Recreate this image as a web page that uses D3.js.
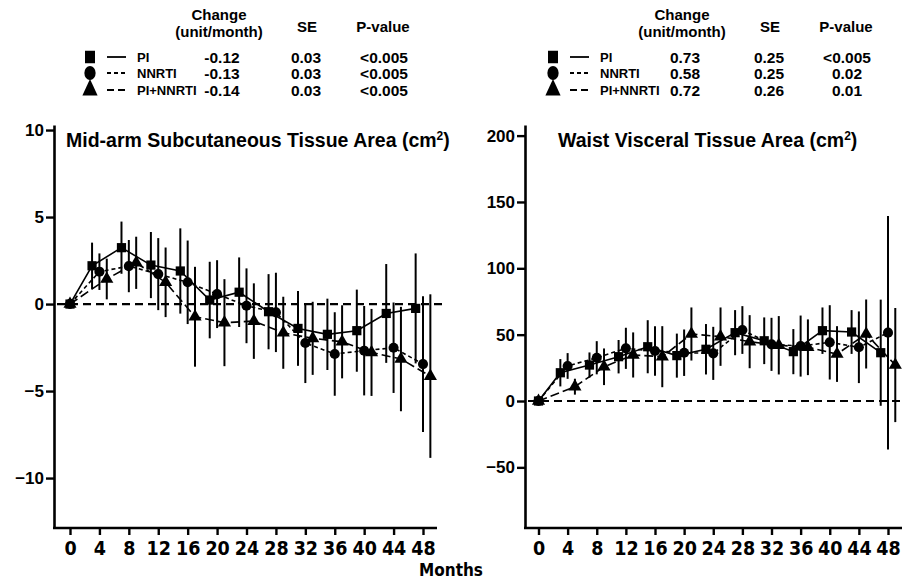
<!DOCTYPE html>
<html>
<head>
<meta charset="utf-8">
<script src="https://cdn.jsdelivr.net/npm/d3@7"></script>
<style>
  body { margin: 0; background: #fff; }
  svg { display: block; }
</style>
</head>
<body>
<div id="chart"></div>
<script>
// visit months, each group is shifted by one month so the bars do not overlap
const months = [0, 4, 8, 12, 16, 20, 24, 28, 32, 36, 40, 44, 48]
const month_ticks = [0, 4, 8, 12, 16, 20, 24, 28, 32, 36, 40, 44, 48]
const groups = ["PI", "NNRTI", "PI+NNRTI"]
const group_shift = [-1, 0, 1]

// Mid-arm subcutaneous tissue area (cm2)
const arm_pi = [0, 2.2, 3.24, 2.24, 1.9, 0.23, 0.68, -0.44, -1.4, -1.74, -1.53, -0.54, -0.25]
const arm_pi_err = [0, 1.33, 1.5, 1.9, 2.45, 2.2, 2.0, 2.16, 2.15, 2.05, 2.36, 2.84, 3.16]
const arm_nnrti = [0, 1.86, 2.18, 1.72, 1.25, 0.57, -0.1, -0.48, -2.24, -2.87, -2.68, -2.51, -3.45]
const arm_nnrti_err = [0, 1.05, 1.5, 2.07, 2.4, 1.95, 2.15, 2.28, 2.3, 2.4, 2.57, 2.6, 3.9]
const arm_both = [0, 1.44, 2.37, 1.25, -0.73, -1.07, -0.98, -1.65, -1.97, -2.17, -2.78, -3.16, -4.14]
const arm_both_err = [0, 1.17, 1.5, 2.0, 2.87, 2.5, 2.17, 2.07, 2.1, 2.1, 2.5, 3.0, 4.7]
const arm_ticks = [-10, -5, 0, 5, 10]
const arm_stats = [["-0.12", "0.03", "<0.005"], ["-0.13", "0.03", "<0.005"], ["-0.14", "0.03", "<0.005"]]

// Waist visceral tissue area (cm2)
const waist_pi = [0, 21.3, 27.1, 33.4, 40.9, 34.2, 39.0, 51.5, 45.4, 37.2, 53.0, 52.0, 36.4]
const waist_pi_err = [0, 10.3, 9.5, 12.6, 20, 16.6, 19, 17, 17.6, 17, 17.5, 16.5, 40]
const waist_nnrti = [0, 26.4, 32.6, 39.7, 37.7, 36.4, 35.9, 53.5, 42.7, 41.4, 44.2, 40.5, 51.5]
const waist_nnrti_err = [0, 9.7, 12.5, 15.5, 18.6, 17.5, 20, 18, 20, 23, 28, 27, 88]
const waist_both = [0, 10.8, 25.8, 34.7, 33.4, 50.5, 48.5, 44.7, 42, 40.5, 35.4, 50.5, 27.1]
const waist_both_err = [0, 6, 13.8, 17, 23, 20, 22, 20, 22, 21, 21, 26, 43]
const waist_ticks = [-50, 0, 50, 100, 150, 200]
const waist_stats = [["0.73", "0.25", "<0.005"], ["0.58", "0.25", "0.02"], ["0.72", "0.26", "0.01"]]

const font_main = "'Liberation Sans', Arial, Helvetica, sans-serif"
const font_narrow = "'Liberation Sans Narrow', 'DejaVu Sans Condensed', 'Arial Narrow', sans-serif"
const symbols = [d3.symbolSquare, d3.symbolCircle, d3.symbolTriangle]
const symbol_sizes = [85, 80, 75]
const dashes = [null, "4,3", "9,4"]

const svg = d3.select("#chart").append("svg")
  .attr("width", 902)
  .attr("height", 580)

function draw_legend(dx, stats) {
  const g = svg.append("g").attr("transform", `translate(${dx},0)`)
    .style("font-family", font_main)
    .style("font-weight", "bold")
    .style("fill", "#000")

  g.append("text").attr("x", 219).attr("y", 20).attr("text-anchor", "middle")
    .style("font-size", "15px").text("Change")
  g.append("text").attr("x", 219).attr("y", 37).attr("text-anchor", "middle")
    .style("font-size", "15px").text("(unit/month)")
  g.append("text").attr("x", 307).attr("y", 32).attr("text-anchor", "middle")
    .style("font-size", "15px").text("SE")
  g.append("text").attr("x", 383).attr("y", 32).attr("text-anchor", "middle")
    .style("font-size", "15px").text("P-value")

  const row_y = [57, 73, 90]
  groups.forEach((name, i) => {
    const y = row_y[i]
    g.append("path")
      .attr("d", d3.symbol(symbols[i], 100)())
      .attr("transform", `translate(90,${y}) scale(1,1.25)`)
      .attr("fill", "#000")
    g.append("line")
      .attr("x1", 107).attr("x2", 126).attr("y1", y).attr("y2", y)
      .attr("stroke", "#000").attr("stroke-width", 1.8)
      .attr("stroke-dasharray", i == 0 ? null : (i == 1 ? "4,3" : "7,4"))
    g.append("text").attr("x", 137).attr("y", y + 4.5)
      .style("font-size", "13px").text(name)
    g.append("text").attr("x", 222).attr("y", y + 5.5).attr("text-anchor", "middle")
      .style("font-size", "15.5px").text(stats[i][0])
    g.append("text").attr("x", 306).attr("y", y + 5.5).attr("text-anchor", "middle")
      .style("font-size", "15.5px").text(stats[i][1])
    g.append("text").attr("x", 384).attr("y", y + 5.5).attr("text-anchor", "middle")
      .style("font-size", "15.5px").text(stats[i][2])
  })
}

function draw_panel(opt) {
  const g = svg.append("g")
  const x = d3.scaleLinear().domain([0, 48]).range(opt.x_range)
  const y = d3.scaleLinear().domain(opt.y_domain).range([528, 125])

  // clip so the last series does not run past the picture edge
  const clip_id = "clip_" + opt.name
  svg.append("clipPath").attr("id", clip_id)
    .append("rect").attr("x", opt.axis_x).attr("y", 0)
    .attr("width", opt.axis_end - opt.axis_x).attr("height", 580)

  // y axis
  const y_axis = d3.axisLeft(y).tickValues(opt.y_ticks).tickSize(8).tickSizeOuter(0).tickFormat(d3.format("d"))
  const ya = g.append("g").attr("transform", `translate(${opt.axis_x},0)`).call(y_axis)
  ya.select(".domain").attr("stroke-width", 2.6)
  ya.selectAll(".tick line").attr("stroke-width", 2.4)
  ya.selectAll(".tick text")
    .style("font-family", font_main).style("font-weight", "bold").style("font-size", "17px")
    .attr("x", -10)

  // x axis
  const xa = g.append("g").attr("transform", "translate(0,528)")
  xa.append("line").attr("x1", opt.axis_x - 1).attr("x2", opt.axis_end)
    .attr("stroke", "#000").attr("stroke-width", 2.6)
  const x_axis = d3.axisBottom(x).tickValues(month_ticks).tickSize(7).tickSizeOuter(0)
  const xt = xa.append("g").call(x_axis)
  xt.select(".domain").remove()
  xt.selectAll(".tick line").attr("stroke-width", 2.4)
  xt.selectAll(".tick text")
    .style("font-family", font_narrow).style("font-weight", "bold").style("font-size", "19.5px")
    .attr("y", 13)

  // zero reference line
  g.append("line")
    .attr("x1", opt.axis_x + 3).attr("x2", opt.zero_end)
    .attr("y1", y(0)).attr("y2", y(0))
    .attr("stroke", "#000").attr("stroke-width", 2.2).attr("stroke-dasharray", "8,5")

  // title with superscript
  const title = g.append("text").attr("class", "panel_title").attr("x", opt.title_x).attr("y", 147)
    .style("font-family", font_main).style("font-weight", "bold").style("font-size", "19.5px")
    .text(opt.title)
  title.append("tspan").attr("dy", -7).style("font-size", "12px").text("2")
  title.append("tspan").attr("dy", 7).text(")")

  const plot = g.append("g").attr("clip-path", `url(#${clip_id})`)
  opt.series.forEach((s, i) => {
    const pts = months.map((m, k) => ({
      m: m == 0 ? 0 : m + group_shift[i],
      v: s.values[k],
      e: s.errors[k]
    }))
    // error bars
    plot.selectAll(null).data(pts.filter(d => d.e > 0)).enter().append("line")
      .attr("x1", d => x(d.m)).attr("x2", d => x(d.m))
      .attr("y1", d => y(d.v + d.e)).attr("y2", d => y(d.v - d.e))
      .attr("stroke", "#000").attr("stroke-width", 2)
    // connecting line
    plot.append("path").datum(pts)
      .attr("d", d3.line().x(d => x(d.m)).y(d => y(d.v)))
      .attr("fill", "none").attr("stroke", "#000").attr("stroke-width", 1.6)
      .attr("stroke-dasharray", dashes[i])
    // markers
    plot.selectAll(null).data(pts).enter().append("path")
      .attr("d", d3.symbol(symbols[i], symbol_sizes[i])())
      .attr("transform", d => `translate(${x(d.m)},${y(d.v)})`)
      .attr("fill", "#000")
  })
}

draw_legend(0, arm_stats)
draw_legend(463, waist_stats)

draw_panel({
  name: "arm",
  title: "Mid-arm Subcutaneous Tissue Area (cm",
  title_x: 66,
  axis_x: 54,
  axis_end: 437,
  zero_end: 442,
  x_range: [70, 423],
  y_domain: [-12.87, 10.29],
  y_ticks: arm_ticks,
  series: [
    { values: arm_pi, errors: arm_pi_err },
    { values: arm_nnrti, errors: arm_nnrti_err },
    { values: arm_both, errors: arm_both_err }
  ]
})

draw_panel({
  name: "waist",
  title: "Waist Visceral Tissue Area (cm",
  title_x: 558,
  axis_x: 525,
  axis_end: 902,
  zero_end: 902,
  x_range: [538.5, 888],
  y_domain: [-95.7, 208],
  y_ticks: waist_ticks,
  series: [
    { values: waist_pi, errors: waist_pi_err },
    { values: waist_nnrti, errors: waist_nnrti_err },
    { values: waist_both, errors: waist_both_err }
  ]
})

svg.append("text").attr("x", 451).attr("y", 576).attr("text-anchor", "middle")
  .style("font-family", font_narrow).style("font-weight", "bold").style("font-size", "17px")
  .text("Months")
</script>
</body>
</html>
